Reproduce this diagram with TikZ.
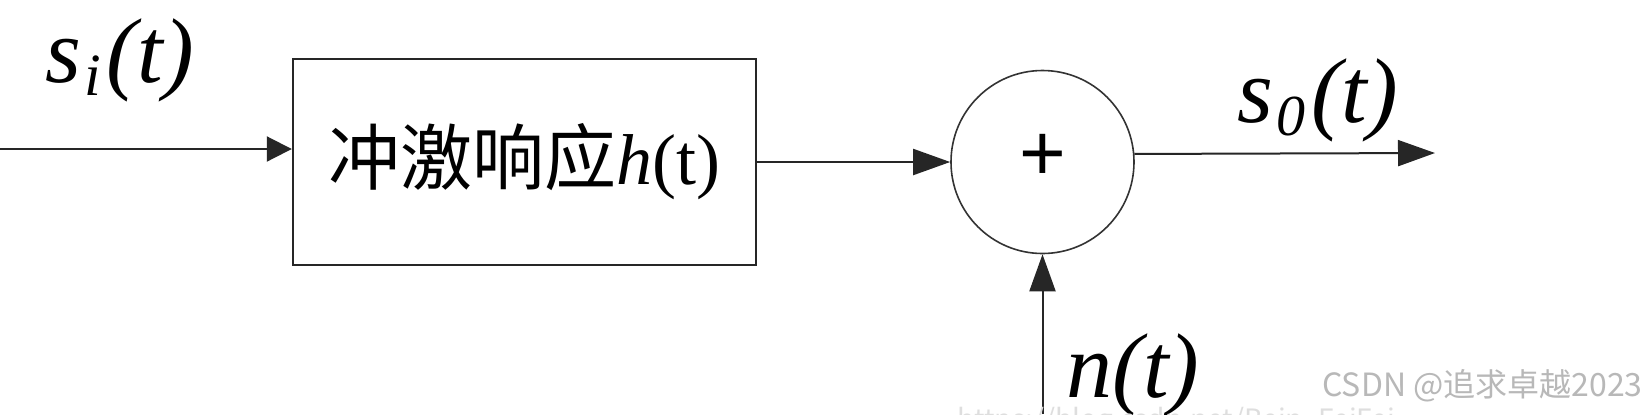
\documentclass[tikz,border=0pt]{standalone}
\usepackage{fontspec}
\setmainfont{Liberation Serif}
\newfontfamily\cjk{Noto Sans CJK SC}
\newfontfamily\wmfont{Noto Sans CJK SC}
\newfontfamily\plusfont{Liberation Sans}
\usetikzlibrary{arrows.meta}
\tikzset{
  wire/.style={draw=black!85, line width=1pt},
  bigtip/.style={-{Triangle[length=18.5pt,width=13pt]}},
  smalltip/.style={-{Triangle[length=12.5pt,width=12.5pt]}},
  sig/.style={anchor=base west, inner sep=0pt, font=\fontsize{46}{50}\selectfont\itshape},
  blockbox/.style={draw=black!85, line width=1.2pt, minimum width=231.5pt, minimum height=103pt, inner sep=0pt},
  sumnode/.style={circle, draw=black!80, line width=0.8pt, minimum size=91.5pt, inner sep=0pt},
  wmark/.style={anchor=base west, inner sep=0pt, text=black!28, font=\wmfont\fontsize{16}{18}\selectfont},
}
\begin{document}
\begin{tikzpicture}[x=0.5pt,y=-0.5pt]
\useasboundingbox[fill=white] (0,0) rectangle (1646,414);

% block
\node[blockbox] (box) at (524.5,162)
  {\fontsize{36}{40}\selectfont{\cjk 冲激响应}{\itshape h}(t)};

% summing junction
\node[sumnode] (sum) at (1042.5,162) {};
\node[inner sep=0pt, font=\plusfont\fontsize{40}{40}\selectfont] (plus) at (1043,157) {+};

% connector end points
\coordinate (in) at (0,149);
\coordinate (out) at (1435,153);
\coordinate (nin) at (1042.5,414);

% connectors
\draw[wire, smalltip] (in) -- (box.west |- in);
\draw[wire, bigtip] (box.east |- sum) -- (sum.west);
\draw[wire, bigtip] (sum.5.6) -- (out);
\draw[wire, bigtip] (nin) -- (sum.south);

% signal labels
\node[sig] (si) at (45,82) {s\kern1.5pt\raisebox{-6.5pt}{\fontsize{30}{30}\selectfont i}\kern3pt(t)};
\node[sig] (so) at (1237,122) {s\kern1.5pt\raisebox{-6.5pt}{\fontsize{29}{30}\selectfont 0}\kern3pt(t)};
\node[sig] (nt) at (1066,397) {n(t)};

% watermarks
\node[wmark] (wm1) at (1322,396) {CSDN @追求卓越2023};
\node[wmark, text=black!13, font=\wmfont\fontsize{14}{16}\selectfont] (wm2) at (957,429) {https://blog.csdn.net/Bein\_FeiFei};
\end{tikzpicture}
\end{document}
